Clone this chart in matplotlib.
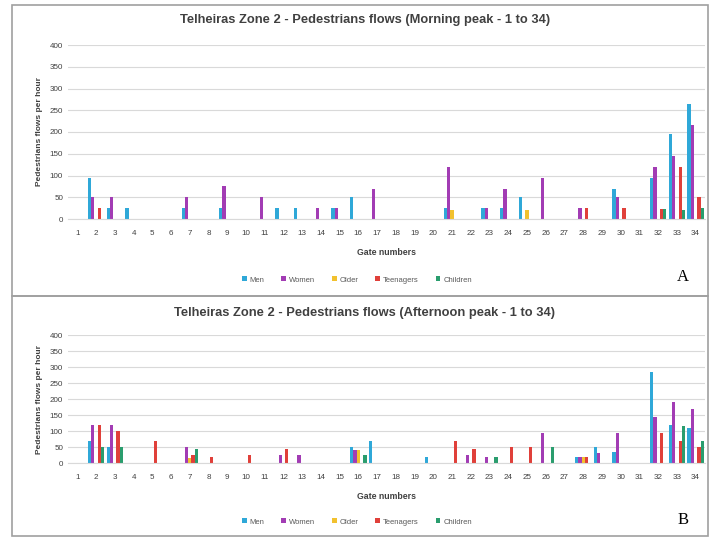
import matplotlib
matplotlib.use("Agg")
import matplotlib.pyplot as plt
import numpy as np
from matplotlib.patches import Rectangle

plt.rcParams['font.family'] = ['Liberation Sans', 'DejaVu Sans']

gates = list(range(1, 35))
series_names = ['Men', 'Women', 'Older', 'Teenagers', 'Children']
colors = ['#2fa8d8', '#a23cb4', '#f2c12e', '#e0403a', '#2a9d6e']

# morning peak (A) - values per gate 1..34
am_men = [0, 95, 25, 25, 0, 0, 25, 0, 25, 0, 0, 25, 25, 0, 25, 50, 0,
          0, 0, 0, 25, 0, 25, 25, 50, 0, 0, 0, 0, 70, 0, 95, 195, 265]
am_women = [0, 50, 50, 0, 0, 0, 50, 0, 75, 0, 50, 0, 0, 25, 25, 0, 70,
            0, 0, 0, 120, 0, 25, 70, 0, 95, 0, 25, 0, 50, 0, 120, 145, 215]
am_older = [0, 0, 0, 0, 0, 0, 0, 0, 0, 0, 0, 0, 0, 0, 0, 0, 0,
            0, 0, 0, 20, 0, 0, 0, 20, 0, 0, 0, 0, 0, 0, 0, 0, 0]
am_teen = [0, 25, 0, 0, 0, 0, 0, 0, 0, 0, 0, 0, 0, 0, 0, 0, 0,
           0, 0, 0, 0, 0, 0, 0, 0, 0, 0, 25, 0, 25, 0, 22, 120, 50]
am_children = [0, 0, 0, 0, 0, 0, 0, 0, 0, 0, 0, 0, 0, 0, 0, 0, 0,
               0, 0, 0, 0, 0, 0, 0, 0, 0, 0, 0, 0, 0, 0, 22, 20, 25]

# afternoon peak (B)
pm_men = [0, 70, 50, 0, 0, 0, 0, 0, 0, 0, 0, 0, 0, 0, 0, 50, 70,
          0, 0, 20, 0, 0, 0, 0, 0, 0, 0, 20, 50, 35, 0, 285, 120, 110]
pm_women = [0, 120, 120, 0, 0, 0, 50, 0, 0, 0, 0, 25, 25, 0, 0, 40, 0,
            0, 0, 0, 0, 25, 20, 0, 0, 95, 0, 20, 30, 95, 0, 145, 190, 170]
pm_older = [0, 0, 0, 0, 0, 0, 15, 0, 0, 0, 0, 0, 0, 0, 0, 40, 0,
            0, 0, 0, 0, 0, 0, 0, 0, 0, 0, 20, 0, 0, 0, 0, 0, 0]
pm_teen = [0, 120, 100, 0, 70, 0, 25, 20, 0, 25, 0, 45, 0, 0, 0, 0, 0,
           0, 0, 0, 70, 45, 0, 50, 50, 0, 0, 20, 0, 0, 0, 95, 70, 50]
pm_children = [0, 50, 50, 0, 0, 0, 45, 0, 0, 0, 0, 0, 0, 0, 0, 25, 0,
               0, 0, 0, 0, 0, 20, 0, 0, 50, 0, 0, 0, 0, 0, 0, 115, 70]

W, H = 711, 539
fig = plt.figure(figsize=(W / 100, H / 100), dpi=100)


def fx(px):
    return px / W


def fy(py):
    return 1 - py / H


def panel(rect, data, title, title_y, legend_y, letter, letter_y, xlab_pad):
    ax = fig.add_axes(rect)
    x = np.arange(len(gates))
    bw = 0.175
    for i, vals in enumerate(data):
        ax.bar(x + (i - 2) * bw, vals, bw, color=colors[i], label=series_names[i])
    ax.set_xlim(-0.5, len(gates) - 0.5)
    ax.set_ylim(0, 400)
    ax.set_yticks(range(0, 401, 50))
    ax.set_xticks(x)
    ax.set_xticklabels([str(g) for g in gates])
    ax.tick_params(length=0, labelsize=5.8, colors='#404040')
    ax.tick_params(axis='x', pad=8)
    ax.grid(axis='y', color='#d9d9d9', linewidth=0.8)
    ax.set_axisbelow(True)
    for s in ['top', 'right', 'left']:
        ax.spines[s].set_visible(False)
    ax.spines['bottom'].set_color('#d9d9d9')
    ax.set_xlabel('Gate numbers', fontsize=6.3, fontweight='bold', color='#404040',
                  labelpad=xlab_pad)
    ax.set_ylabel('Pedestrians flows per hour', fontsize=6, fontweight='bold',
                  color='#404040', labelpad=5)
    fig.text(fx(365), fy(title_y), title, ha='center', va='center',
             fontsize=9.3, fontweight='bold', color='#404040')
    handles, labels = ax.get_legend_handles_labels()
    fig.legend(handles, labels, loc='center', bbox_to_anchor=(fx(357), fy(legend_y)),
               ncol=5, fontsize=5.5, frameon=False, handlelength=0.6, handleheight=0.6,
               columnspacing=2.2, handletextpad=0.4, labelcolor='#595959')
    fig.text(fx(683), fy(letter_y), letter, ha='center', va='center',
             fontsize=12, family='Liberation Serif')
    return ax


panel([fx(68), fy(219), fx(705) - fx(68), fy(45) - fy(219)],
      [am_men, am_women, am_older, am_teen, am_children],
      'Telheiras Zone 2 - Pedestrians flows (Morning peak - 1 to 34)', 20, 280, 'A', 277, 8)
panel([fx(68), fy(463), fx(705) - fx(68), fy(335) - fy(463)],
      [pm_men, pm_women, pm_older, pm_teen, pm_children],
      'Telheiras Zone 2 - Pedestrians flows (Afternoon peak - 1 to 34)', 313, 522, 'B', 520, 8)

# panel frames
fig.add_artist(Rectangle((fx(12), fy(296)), fx(708) - fx(12), fy(5) - fy(296),
                         fill=False, edgecolor='#a0a0a0', linewidth=1.2, transform=fig.transFigure))
fig.add_artist(Rectangle((fx(12), fy(536)), fx(708) - fx(12), fy(296) - fy(536),
                         fill=False, edgecolor='#a0a0a0', linewidth=1.2, transform=fig.transFigure))

fig.savefig('out.png', dpi=100)
